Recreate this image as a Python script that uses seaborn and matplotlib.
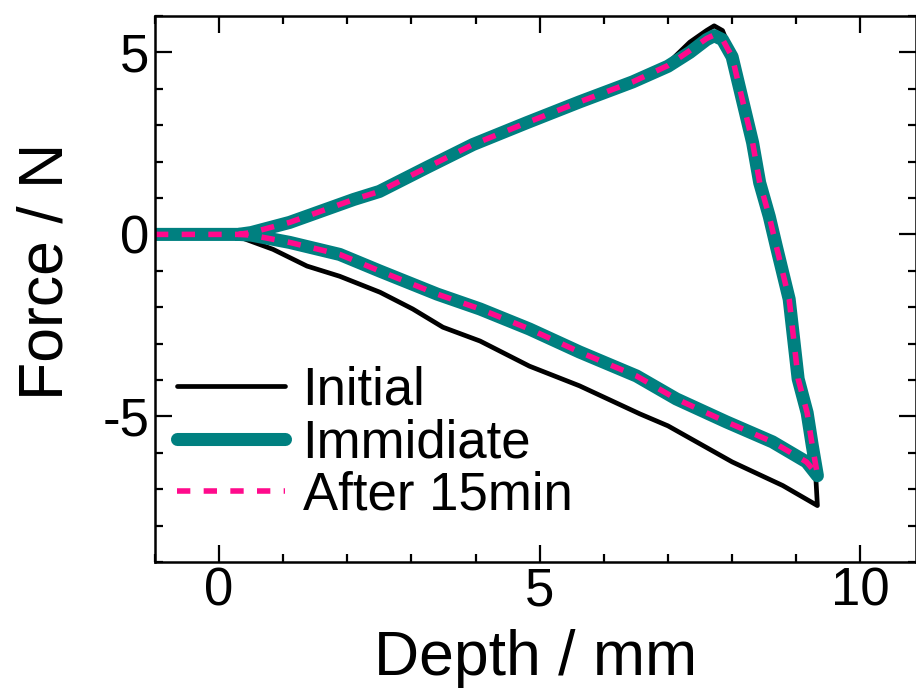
import matplotlib
matplotlib.use("Agg")
import matplotlib.pyplot as plt
import seaborn as sns
import pandas as pd
from matplotlib.ticker import MultipleLocator

# ---- data ----
initial_x = [-1.0, 0.0, 0.3, 0.5, 1.1, 2.1, 2.5, 3.24, 3.96, 4.8, 5.62, 6.45, 7.0, 7.34, 7.6, 7.72,
             7.85, 8.0, 8.16, 8.32, 8.43, 8.58, 8.69, 8.89, 9.03, 9.17, 9.25, 9.3, 9.33,
             8.79, 8.0, 7.0, 6.56, 5.62, 4.84, 4.07, 3.49, 3.02, 2.51, 1.88, 1.37, 0.84, 0.33, 0.0]
initial_y = [0.0, 0.0, 0.0, 0.06, 0.33, 0.96, 1.18, 1.86, 2.48, 3.08, 3.66, 4.22, 4.7, 5.28, 5.6, 5.73,
             5.6, 4.95, 3.7, 2.52, 1.42, 0.49, -0.33, -1.78, -3.97, -4.9, -5.8, -6.5, -7.45,
             -6.9, -6.25, -5.26, -4.93, -4.16, -3.62, -2.93, -2.55, -2.05, -1.59, -1.15, -0.87, -0.41, -0.08, 0.0]

immediate_x = [-1.0, 0.0, 0.3, 0.5, 1.1, 2.1, 2.5, 3.24, 3.96, 4.8, 5.62, 6.45, 7.0, 7.34, 7.6, 7.72,
               7.85, 8.0, 8.16, 8.32, 8.43, 8.58, 8.69, 8.89, 9.03, 9.17, 9.25, 9.33,
               9.16, 8.63, 7.91, 7.13, 6.51, 5.62, 4.84, 4.07, 3.40, 2.51, 1.88, 1.1, 0.5, 0.3]
immediate_y = [0.0, 0.0, 0.0, 0.05, 0.33, 0.96, 1.18, 1.84, 2.47, 3.07, 3.64, 4.19, 4.62, 5.0, 5.35, 5.46,
               5.35, 4.88, 3.7, 2.52, 1.42, 0.49, -0.33, -1.78, -3.97, -4.9, -5.8, -6.63,
               -6.25, -5.7, -5.15, -4.52, -3.89, -3.23, -2.6, -2.05, -1.64, -1.01, -0.55, -0.22, -0.02, 0.0]

after15_x = [-1.0, 0.0, 0.3, 0.5, 1.1, 2.1, 2.5, 3.24, 3.96, 4.8, 5.62, 6.45, 7.0, 7.34, 7.6, 7.72,
             7.85, 8.0, 8.16, 8.32, 8.43, 8.58, 8.69, 8.89, 9.03, 9.17, 9.25, 9.33,
             9.16, 8.63, 7.91, 7.13, 6.51, 5.62, 4.84, 4.07, 3.40, 2.51, 1.88, 1.1, 0.5, 0.3]
after15_y = [0.0, 0.0, 0.0, 0.05, 0.33, 0.96, 1.18, 1.84, 2.47, 3.07, 3.64, 4.19, 4.64, 5.05, 5.38, 5.48,
             5.36, 4.88, 3.7, 2.52, 1.42, 0.49, -0.33, -1.78, -3.97, -4.9, -5.8, -6.6,
             -6.25, -5.7, -5.15, -4.52, -3.89, -3.23, -2.6, -2.05, -1.64, -1.01, -0.55, -0.22, -0.02, 0.0]

labels = ["Initial", "Immidiate", "After 15min"]
x_major = [0, 5, 10]
y_major = [-5, 0, 5]

sns.set_style("ticks")
plt.rcParams["font.family"] = ["Liberation Sans", "DejaVu Sans"]
plt.rcParams["text.color"] = "black"
plt.rcParams["axes.labelcolor"] = "black"
FS_TICK = 38
FS_LABEL = 45
FS_LEG = 38

fig = plt.figure(figsize=(9.16, 6.91), dpi=100)
ax = fig.add_axes([155 / 916, 1 - 562 / 691, (915.5 - 155) / 916, (562 - 16) / 691])

df_i = pd.DataFrame({"x": initial_x, "y": initial_y})
df_m = pd.DataFrame({"x": immediate_x, "y": immediate_y})
df_a = pd.DataFrame({"x": after15_x, "y": after15_y})

sns.lineplot(data=df_i, x="x", y="y", sort=False, estimator=None, ax=ax,
             color="black", lw=3.4, label=labels[0])
sns.lineplot(data=df_m, x="x", y="y", sort=False, estimator=None, ax=ax,
             color="#008080", lw=9.4, label=labels[1])
sns.lineplot(data=df_a, x="x", y="y", sort=False, estimator=None, ax=ax,
             color="#FF0A8C", lw=4.0, label=labels[2], linestyle=(0, (2.4, 2.4)))

ax.set_xlim(-1, 10.86)
ax.set_ylim(-9, 6)
ax.set_xticks(x_major)
ax.set_yticks(y_major)
ax.xaxis.set_minor_locator(MultipleLocator(1))
ax.yaxis.set_minor_locator(MultipleLocator(1))
ax.set_yticklabels(["-5", "0", "5"])
ax.tick_params(which="both", direction="in", top=True, right=True, width=1.6, color="black",
               labelsize=FS_TICK, labelcolor="black")
ax.tick_params(which="major", length=12.5)
ax.tick_params(which="minor", length=6)
ax.tick_params(axis="x", which="major", pad=3)
ax.tick_params(axis="y", which="major", pad=4)
for s in ax.spines.values():
    s.set_linewidth(1.8)
    s.set_color("black")

ax.set_xlabel("Depth / mm", fontsize=FS_LABEL, labelpad=9)
ax.set_ylabel("Force / N", fontsize=FS_LABEL)
ax.yaxis.set_label_coords(-0.105, 0.533)

leg = ax.legend(loc="center left", bbox_to_anchor=(22 / 760.5, (562 - 443) / 546),
                frameon=False, fontsize=FS_LEG, handlelength=2.05, handletextpad=0.33,
                labelspacing=0.05, borderpad=0, borderaxespad=0)

fig.savefig("out.png", dpi=100)
